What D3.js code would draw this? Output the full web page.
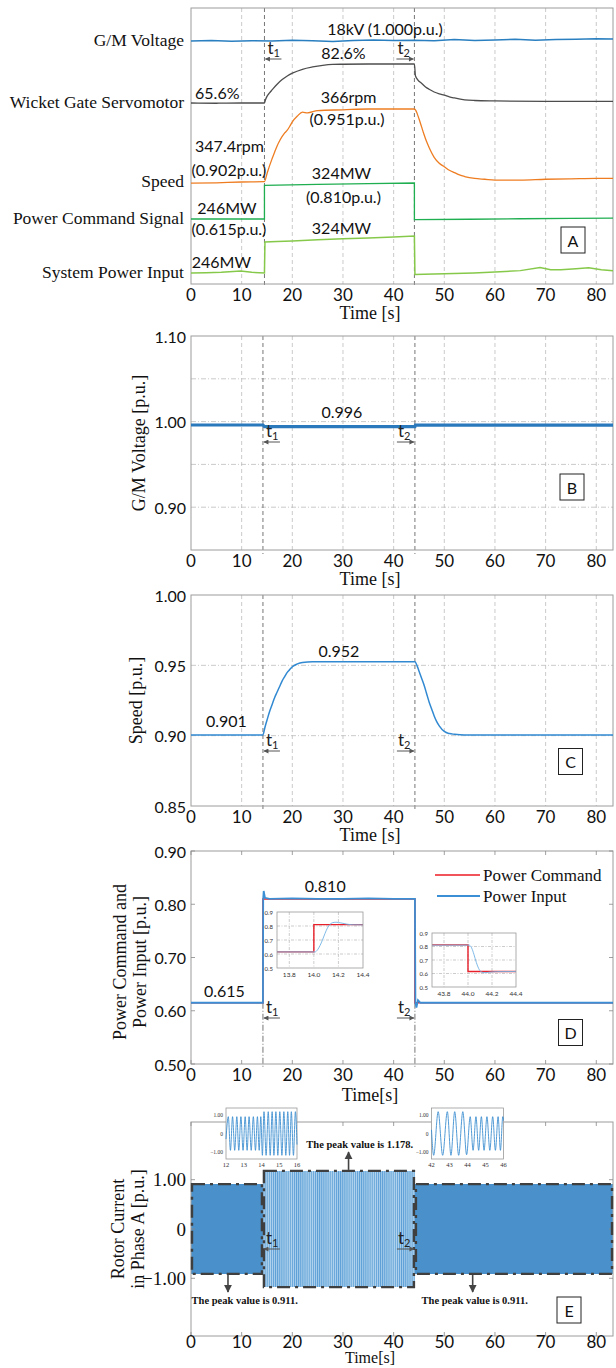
<!DOCTYPE html>
<html>
<head>
<meta charset="utf-8">
<script src="https://cdn.jsdelivr.net/npm/d3@7"></script>
<style>
  body { margin: 0; background: #fff; }
  svg { display: block; }
</style>
</head>
<body>
<svg id="chart" width="616" height="1368"></svg>
<script>
// ---- data ----
const xTicks = [0, 10, 20, 30, 40, 50, 60, 70, 80];
const tEventsA = [14.5, 44.1];
const tEvents = [14.2, 44.2];

// panel A (measured)
const gmTime = [0, 4, 8, 12, 16, 20, 24, 28, 32, 36, 40, 44, 48, 52, 56, 60, 64, 68, 72, 76, 80, 83.3];
const gmVolt = [1.0000, 1.0002, 0.9999, 1.0001, 1.0000, 1.0003, 1.0001, 0.9998, 1.0002, 1.0004, 1.0002, 1.0003, 1.0001, 1.0005, 1.0002, 1.0004, 1.0006, 1.0003, 1.0005, 1.0006, 1.0008, 1.0007];
const gateTime = [0, 5, 10, 14.5, 14.7, 15, 15.5, 16, 17, 18, 19, 20, 22, 24, 26, 28, 30, 35, 40, 44.1, 44.3, 44.8, 45.5, 46.3, 47, 48, 49, 50, 51, 52, 54, 56, 60, 70, 83.3];
const gateOpen = [65.6, 65.5, 65.6, 65.6, 67.0, 68.5, 70.0, 71.3, 73.8, 75.8, 77.4, 78.6, 80.3, 81.3, 82.0, 82.4, 82.5, 82.6, 82.6, 82.6, 77.5, 75.6, 74.2, 72.6, 71.6, 70.4, 69.6, 69.0, 68.3, 67.8, 67.0, 66.7, 66.5, 66.3, 66.3];
const speedTime = [0, 5, 10, 14.5, 15, 15.5, 16, 16.5, 17, 17.5, 18, 18.5, 19, 19.5, 20, 21, 22, 23, 25, 30, 35, 44.1, 44.6, 45, 45.5, 46, 46.5, 47, 48, 49, 50, 51, 52, 53, 54, 56, 58, 60, 65, 70, 75, 80, 83.3];
const speedRpm = [347.1, 347.2, 347.4, 347.5, 349.5, 351.5, 353.3, 355.0, 356.6, 357.9, 359.0, 359.9, 360.6, 361.6, 362.7, 364.2, 365.2, 365.0, 365.6, 365.8, 366.0, 366.0, 365.0, 363.5, 361.5, 359.5, 357.7, 356.2, 353.7, 352.2, 351.3, 350.4, 349.8, 349.2, 348.8, 348.3, 348.1, 347.9, 347.9, 348.1, 348.2, 348.3, 348.3];
const cmdTime = [0, 14.5, 14.5, 25, 35, 44.1, 44.1, 55, 65, 75, 83.3];
const cmdMW = [246, 246, 319, 321, 322.5, 324, 244.5, 245.5, 246.5, 247.5, 248];
const inTime = [0, 3, 6, 9.8, 12, 14.5, 14.6, 17, 20, 25, 30, 35, 40, 44.1, 44.2, 46, 50, 55.8, 60, 65, 68.9, 71, 73, 76, 78.5, 81, 83.3];
const inMW = [246, 246.5, 247.5, 250, 247.5, 246, 311.5, 312.5, 313.5, 316, 318, 320, 322, 324, 243, 243.5, 244.5, 246, 248, 251, 257.8, 253, 253, 255, 257, 253, 251];

// panel B
const bTime = [0, 14.2, 14.5, 30, 44.2, 44.3, 83.3];
const bVolt = [0.996, 0.996, 0.9942, 0.9942, 0.9942, 0.9958, 0.9958];

// panel C
const cTime = [0, 10, 14.2, 14.6, 15, 15.5, 16, 16.5, 17, 17.5, 18, 18.5, 19, 19.5, 20, 21, 22, 24, 30, 44.2, 44.6, 45, 45.5, 46, 46.5, 47, 47.5, 48, 48.5, 49, 50, 51, 52, 54, 60, 83.3];
const cSpeed = [0.9005, 0.9005, 0.9005, 0.906, 0.911, 0.917, 0.922, 0.927, 0.931, 0.935, 0.939, 0.942, 0.945, 0.947, 0.949, 0.951, 0.952, 0.9525, 0.9525, 0.9525, 0.950, 0.946, 0.941, 0.936, 0.930, 0.924, 0.919, 0.914, 0.910, 0.907, 0.903, 0.9015, 0.901, 0.9005, 0.9005, 0.9005];

// panel D
const dCmdTime = [0, 14.2, 14.2, 44.2, 44.2, 83.3];
const dCmdVal = [0.615, 0.615, 0.81, 0.81, 0.615, 0.615];
const dInTime = [0, 14.2, 14.25, 14.35, 14.6, 15.5, 20, 25, 30, 35, 40, 44.2, 44.3, 44.5, 44.8, 45.3, 50, 83.3];
const dInVal = [0.615, 0.615, 0.81, 0.825, 0.812, 0.81, 0.811, 0.81, 0.81, 0.811, 0.81, 0.81, 0.615, 0.606, 0.62, 0.615, 0.615, 0.615];
const dZoom1Cmd = [[13.7, 0.615], [14.0, 0.615], [14.0, 0.81], [14.4, 0.81]];
const dZoom1In = [[13.7, 0.615], [14.01, 0.615], [14.03, 0.63], [14.05, 0.66], [14.07, 0.70], [14.09, 0.745], [14.11, 0.785], [14.13, 0.81], [14.15, 0.823], [14.18, 0.827], [14.22, 0.822], [14.27, 0.813], [14.32, 0.809], [14.4, 0.808]];
const dZoom2Cmd = [[43.7, 0.812], [44.0, 0.812], [44.0, 0.615], [44.4, 0.615]];
const dZoom2In = [[43.7, 0.81], [44.01, 0.81], [44.03, 0.79], [44.05, 0.74], [44.07, 0.68], [44.09, 0.635], [44.11, 0.612], [44.14, 0.606], [44.18, 0.61], [44.24, 0.614], [44.4, 0.615]];

// panel E
const eSegStart = [0, 14.2, 44.2];
const eSegEnd = [14.2, 44.2, 83.3];
const ePeak = [0.911, 1.178, 0.911];
const eZoom1 = [[12.00, -0.30], [12.13, 0.91], [12.25, -0.91], [12.37, 0.91], [12.49, -0.91], [12.61, 0.91], [12.72, -0.91], [12.84, 0.91], [12.96, -0.91], [13.08, 0.91], [13.19, -0.91], [13.30, 0.91], [13.42, -0.91], [13.54, 0.91], [13.66, -0.91], [13.77, 0.91], [13.87, -0.91], [13.96, 0.91], [14.05, -1.18], [14.14, 1.18], [14.26, -1.18], [14.38, 1.18], [14.49, -1.18], [14.60, 1.18], [14.70, -1.18], [14.81, 1.18], [14.92, -1.18], [15.03, 1.18], [15.15, -1.18], [15.26, 1.18], [15.37, -1.18], [15.48, 1.18], [15.58, -1.18], [15.68, 1.18], [15.80, -1.18], [15.91, 1.18], [16.00, -0.60]];
const eZoom2 = [[42.00, 0.20], [42.12, -1.18], [42.37, 1.18], [42.62, -1.18], [42.88, 1.18], [43.08, -1.18], [43.29, 1.18], [43.51, -1.18], [43.74, 1.18], [43.95, -1.15], [44.15, 0.91], [44.31, -0.91], [44.47, 0.91], [44.62, -0.91], [44.77, 0.91], [44.92, -0.91], [45.08, 0.91], [45.24, -0.91], [45.40, 0.91], [45.55, -0.91], [45.70, 0.91], [45.83, -0.91], [45.96, 0.91], [46.00, 0.70]];

// ---- layout ----
const serif = '"Liberation Serif", "Times New Roman", serif';
const sans = 'Lato, "Open Sans", sans-serif';
const svg = d3.select('#chart');
const x = d3.scaleLinear().domain([0, 83.3]).range([191, 613]);
const P = {
  A: { top: 8, bottom: 284 },
  B: { top: 336, bottom: 550 },
  C: { top: 595, bottom: 806 },
  D: { top: 851, bottom: 1064 },
  E: { top: 1122, bottom: 1336 }
};
const zip = (ts, vs) => ts.map((t, i) => [t, vs[i]]);

const defs = svg.append('defs');
defs.append('marker')
  .attr('id', 'arrowHead').attr('viewBox', '0 0 10 10')
  .attr('refX', 9).attr('refY', 5).attr('markerWidth', 6).attr('markerHeight', 5)
  .attr('orient', 'auto')
  .append('path').attr('d', 'M0,0L10,5L0,10Z').attr('fill', '#555');
defs.append('marker')
  .attr('id', 'bigHead').attr('viewBox', '0 0 10 10')
  .attr('refX', 9).attr('refY', 5).attr('markerWidth', 5).attr('markerHeight', 6)
  .attr('orient', 'auto')
  .append('path').attr('d', 'M0,0L10,5L0,10Z').attr('fill', '#444');
const pat = defs.append('pattern').attr('id', 'eStripes')
  .attr('patternUnits', 'userSpaceOnUse').attr('width', 2.1).attr('height', 4);
pat.append('rect').attr('width', 2.1).attr('height', 4).attr('fill', '#b3d4ee');
pat.append('rect').attr('width', 1).attr('height', 4).attr('fill', '#5b9fd6');

function frame(p) {
  svg.append('rect')
    .attr('x', x.range()[0]).attr('y', p.top)
    .attr('width', x.range()[1] - x.range()[0]).attr('height', p.bottom - p.top)
    .attr('fill', 'none').attr('stroke', '#9c9c9c').attr('stroke-width', 1);
}

function vGrid(p) {
  svg.append('g').selectAll('line').data(xTicks.slice(1)).join('line')
    .attr('x1', d => x(d)).attr('x2', d => x(d))
    .attr('y1', p.top).attr('y2', p.bottom)
    .attr('stroke', '#bdbdbd').attr('stroke-width', 0.8).attr('stroke-dasharray', '4,3');
}

function hGrid(y, vals) {
  svg.append('g').selectAll('line').data(vals).join('line')
    .attr('x1', x.range()[0]).attr('x2', x.range()[1])
    .attr('y1', d => y(d)).attr('y2', d => y(d))
    .attr('stroke', '#bdbdbd').attr('stroke-width', 0.8).attr('stroke-dasharray', '5,2,1,2');
}

function tLines(p, times, y0, dash) {
  svg.append('g').selectAll('line').data(times).join('line')
    .attr('x1', d => x(d)).attr('x2', d => x(d))
    .attr('y1', y0).attr('y2', p.bottom + 4)
    .attr('stroke', '#666').attr('stroke-width', 0.9).attr('stroke-dasharray', dash);
}

function xLabels(p, title, off1 = 17, off2 = 35, titleSize = 18) {
  const g = svg.append('g');
  g.selectAll('text').data(xTicks).join('text')
    .attr('x', d => x(d)).attr('y', p.bottom + off1)
    .attr('text-anchor', 'middle').style('font', `17px ${sans}`).attr('fill', '#111')
    .text(d => d);
  g.append('text').attr('x', 370).attr('y', p.bottom + off2)
    .attr('text-anchor', 'middle').style('font', `${titleSize}px ${serif}`).attr('fill', '#111')
    .text(title);
}

function yLabels(y, vals, fmt, font) {
  svg.append('g').selectAll('text').data(vals).join('text')
    .attr('x', 186).attr('y', d => y(d))
    .attr('text-anchor', 'end').attr('dominant-baseline', 'central')
    .style('font', font || `16px ${sans}`).attr('fill', '#111')
    .text(fmt);
}

function yTitle(lines, xs, yc) {
  lines.forEach((s, i) => {
    svg.append('text')
      .attr('transform', `translate(${xs[i]},${yc}) rotate(-90)`)
      .attr('text-anchor', 'middle').attr('dominant-baseline', 'central')
      .style('font', `18px ${serif}`).attr('fill', '#111')
      .text(s);
  });
}

function tMarks(times, arrowY) {
  times.forEach((t, i) => {
    const xt = x(t);
    const g = svg.append('g');
    const txt = g.append('text')
      .attr('x', i === 0 ? xt + 3 : xt - 17).attr('y', arrowY - 5)
      .style('font', `17px ${sans}`).attr('fill', '#222');
    txt.append('tspan').text('t');
    txt.append('tspan').attr('dy', 3).style('font-size', '11px').text(i + 1);
    g.append('line')
      .attr('x1', i === 0 ? xt + 17 : xt - 18).attr('x2', i === 0 ? xt + 1 : xt - 1)
      .attr('y1', arrowY).attr('y2', arrowY)
      .attr('stroke', '#555').attr('stroke-width', 1).attr('marker-end', 'url(#arrowHead)');
  });
}

function note(text, xc, yb, anchor = 'middle', font) {
  svg.append('text').attr('x', xc).attr('y', yb).attr('text-anchor', anchor)
    .style('font', font || `16px ${sans}`).attr('fill', '#111').text(text);
}

function tagBox(letter, xc, yc) {
  svg.append('rect').attr('x', xc - 12).attr('y', yc - 13).attr('width', 24).attr('height', 26)
    .attr('fill', '#fff').attr('stroke', '#222').attr('stroke-width', 1);
  svg.append('text').attr('x', xc).attr('y', yc).attr('text-anchor', 'middle')
    .attr('dominant-baseline', 'central').style('font', `16px ${sans}`).attr('fill', '#111').text(letter);
}

function inTicks(p, y, yVals) {
  const g = svg.append('g').attr('stroke', '#888').attr('stroke-width', 0.8);
  xTicks.forEach(d => {
    g.append('line').attr('x1', x(d)).attr('x2', x(d)).attr('y1', p.bottom).attr('y2', p.bottom - 4);
    g.append('line').attr('x1', x(d)).attr('x2', x(d)).attr('y1', p.top).attr('y2', p.top + 4);
  });
  yVals.forEach(v => {
    g.append('line').attr('x1', x.range()[0]).attr('x2', x.range()[0] + 4).attr('y1', y(v)).attr('y2', y(v));
    g.append('line').attr('x1', x.range()[1]).attr('x2', x.range()[1] - 4).attr('y1', y(v)).attr('y2', y(v));
  });
}

// ================= Panel A =================
(() => {
  const p = P.A;
  vGrid(p);
  tLines(p, tEventsA, p.top, '4,3');
  frame(p);
  const traces = [
    { label: 'G/M Voltage', color: '#2a7fc0', data: zip(gmTime, gmVolt), lo: 1.0, hi: 1.005, yLo: 33, yHi: 19, curve: d3.curveLinear, w: 1.5 },
    { label: 'Wicket Gate Servomotor', color: '#4d4d4d', data: zip(gateTime, gateOpen), lo: 65.6, hi: 82.6, yLo: 95, yHi: 56, curve: d3.curveMonotoneX, w: 1.3 },
    { label: 'Speed', color: '#ee7d22', data: zip(speedTime, speedRpm), lo: 347.4, hi: 366, yLo: 174, yHi: 101, curve: d3.curveMonotoneX, w: 1.3 },
    { label: 'Power Command Signal', color: '#1fae50', data: zip(cmdTime, cmdMW), lo: 246, hi: 324, yLo: 211, yHi: 175, curve: d3.curveLinear, w: 1.3 },
    { label: 'System Power Input', color: '#86c94a', data: zip(inTime, inMW), lo: 246, hi: 324, yLo: 265, yHi: 228, curve: d3.curveLinear, w: 1.5 }
  ];
  traces.forEach(tr => {
    tr.y = d3.scaleLinear().domain([tr.lo, tr.hi]).range([p.top + tr.yLo, p.top + tr.yHi]);
    svg.append('path').datum(tr.data)
      .attr('d', d3.line().x(d => x(d[0])).y(d => tr.y(d[1])).curve(tr.curve))
      .attr('fill', 'none').attr('stroke', tr.color).attr('stroke-width', tr.w);
    svg.append('text').attr('x', 184).attr('y', tr.y(tr.lo) - 1)
      .attr('text-anchor', 'end').attr('dominant-baseline', 'central')
      .style('font', `17.5px ${serif}`).attr('fill', '#111').text(tr.label);
  });
  const [gm, gate, spd, cmd, pin] = traces;
  note('18kV (1.000p.u.)', x(38.3), gm.y(1.0) - 6);
  note('82.6%', x(30.1), gate.y(82.6) - 5);
  note('65.6%', x(0.8), gate.y(65.6) - 4, 'start');
  note('366rpm', x(31.1), spd.y(366) - 6);
  note('(0.951p.u.)', x(30.8), spd.y(366) + 16);
  note('347.4rpm', x(0.8), spd.y(347.4) - 30, 'start');
  note('(0.902p.u.)', x(0.1), spd.y(347.4) - 6, 'start');
  note('324MW', x(29.7), cmd.y(324) - 4);
  note('(0.810p.u.)', x(30.1), cmd.y(324) + 20);
  note('246MW', x(7.1), cmd.y(246) - 5);
  note('(0.615p.u.)', x(0.1), cmd.y(246) + 16, 'start');
  note('324MW', x(29.7), pin.y(324) - 2);
  note('246MW', x(6.0), pin.y(246) - 5);
  tMarks(tEventsA, p.top + 51);
  xLabels(p, 'Time [s]');
  tagBox('A', 573, 240);
})();

// ================= Panel B =================
(() => {
  const p = P.B;
  const y = d3.scaleLinear().domain([0.85, 1.10]).range([p.bottom, p.top]);
  vGrid(p);
  hGrid(y, [0.90, 0.95, 1.00, 1.05]);
  tLines(p, tEvents, p.top, '4,3');
  frame(p);
  svg.append('path').datum(zip(bTime, bVolt))
    .attr('d', d3.line().x(d => x(d[0])).y(d => y(d[1])))
    .attr('fill', 'none').attr('stroke', '#2b79bd').attr('stroke-width', 3.2);
  yLabels(y, [0.90, 1.00, 1.10], d3.format('.2f'));
  yTitle(['G/M Voltage [p.u.]'], [139], (p.top + p.bottom) / 2);
  note('0.996', x(29.8), y(0.996) - 7);
  tMarks(tEvents, p.top + 106);
  xLabels(p, 'Time [s]');
  tagBox('B', 572, 487);
})();

// ================= Panel C =================
(() => {
  const p = P.C;
  const y = d3.scaleLinear().domain([0.85, 1.00]).range([p.bottom, p.top]);
  vGrid(p);
  hGrid(y, [0.90, 0.95]);
  tLines(p, tEvents, p.top, '4,3');
  frame(p);
  svg.append('path').datum(zip(cTime, cSpeed))
    .attr('d', d3.line().x(d => x(d[0])).y(d => y(d[1])).curve(d3.curveMonotoneX))
    .attr('fill', 'none').attr('stroke', '#3189d2').attr('stroke-width', 1.5);
  yLabels(y, [0.85, 0.90, 0.95, 1.00], d3.format('.2f'));
  yTitle(['Speed [p.u.]'], [136], (p.top + p.bottom) / 2);
  note('0.952', x(29.2), y(0.952) - 6);
  note('0.901', x(7.0), y(0.901) - 7);
  tMarks(tEvents, p.top + 156);
  xLabels(p, 'Time [s]');
  tagBox('C', 570.5, 761.5);
})();

// ================= Panel D =================
(() => {
  const p = P.D;
  const y = d3.scaleLinear().domain([0.5, 0.9]).range([p.bottom, p.top]);
  tLines(p, tEvents, y(0.615), '6,2,1,2');
  frame(p);
  inTicks(p, y, [0.5, 0.6, 0.7, 0.8, 0.9]);
  const line = d3.line().x(d => x(d[0])).y(d => y(d[1]));
  svg.append('path').datum(zip(dCmdTime, dCmdVal)).attr('d', line)
    .attr('fill', 'none').attr('stroke', '#ec1c24').attr('stroke-width', 1.5);
  svg.append('path').datum(zip(dInTime, dInVal)).attr('d', line)
    .attr('fill', 'none').attr('stroke', '#3b8fd4').attr('stroke-width', 1.8);
  yLabels(y, [0.5, 0.6, 0.7, 0.8, 0.9], d3.format('.2f'));
  yTitle(['Power Command and', 'Power Input [p.u.]'], [120, 139.5], 962);
  note('0.810', x(26.5), y(0.81) - 7);
  note('0.615', x(6.6), y(0.615) - 6);
  tMarks(tEvents, p.top + 167);
  xLabels(p, 'Time[s]', 17, 37);
  tagBox('D', 570.5, 1032.5);

  // legend
  const lg = svg.append('g');
  [['Power Command', '#ec1c24', 875], ['Power Input', '#3b8fd4', 896]].forEach(([name, col, ly], i) => {
    lg.append('line').attr('x1', i ? 437 : 435).attr('x2', 480).attr('y1', ly).attr('y2', ly)
      .attr('stroke', col).attr('stroke-width', i ? 2 : 1.5);
    lg.append('text').attr('x', 483).attr('y', ly + 6).style('font', `17px ${serif}`)
      .attr('fill', '#111').text(name);
  });

  // insets
  const insets = [
    { x0: 277, x1: 363, y0: 912, y1: 968, dom: [13.7, 14.4], ticks: [13.8, 14.0, 14.2, 14.4], cmd: dZoom1Cmd, pin: dZoom1In },
    { x0: 432, x1: 516, y0: 933, y1: 987, dom: [43.7, 44.4], ticks: [43.8, 44.0, 44.2, 44.4], cmd: dZoom2Cmd, pin: dZoom2In }
  ];
  insets.forEach(ins => {
    const xi = d3.scaleLinear().domain(ins.dom).range([ins.x0, ins.x1]);
    const yi = d3.scaleLinear().domain([0.5, 0.9]).range([ins.y1, ins.y0]);
    const g = svg.append('g');
    g.append('rect').attr('x', ins.x0).attr('y', ins.y0).attr('width', ins.x1 - ins.x0)
      .attr('height', ins.y1 - ins.y0).attr('fill', '#fff');
    g.selectAll('.gx').data(ins.ticks.slice(0, 3)).join('line')
      .attr('x1', d => xi(d)).attr('x2', d => xi(d)).attr('y1', ins.y0).attr('y2', ins.y1)
      .attr('stroke', '#aaa').attr('stroke-width', 0.6).attr('stroke-dasharray', '3,1.5,1,1.5');
    g.selectAll('.gy').data([0.6, 0.7, 0.8]).join('line')
      .attr('x1', ins.x0).attr('x2', ins.x1).attr('y1', d => yi(d)).attr('y2', d => yi(d))
      .attr('stroke', '#aaa').attr('stroke-width', 0.6).attr('stroke-dasharray', '3,1.5,1,1.5');
    const l = d3.line().x(d => xi(d[0])).y(d => yi(d[1]));
    g.append('path').datum(ins.cmd).attr('d', l).attr('fill', 'none').attr('stroke', '#e8202a').attr('stroke-width', 1.4);
    g.append('path').datum(ins.pin).attr('d', l.curve(d3.curveMonotoneX)).attr('fill', 'none')
      .attr('stroke', '#72b2e4').attr('stroke-width', 0.9);
    g.append('rect').attr('x', ins.x0).attr('y', ins.y0).attr('width', ins.x1 - ins.x0)
      .attr('height', ins.y1 - ins.y0).attr('fill', 'none').attr('stroke', '#999').attr('stroke-width', 0.8);
    g.selectAll('.lx').data(ins.ticks).join('text')
      .attr('x', d => xi(d)).attr('y', ins.y1 + 9).attr('text-anchor', 'middle')
      .style('font', `6.5px ${sans}`).attr('fill', '#333').text(d3.format('.1f'));
    g.selectAll('.ly').data([0.5, 0.6, 0.7, 0.8, 0.9]).join('text')
      .attr('x', ins.x0 - 4).attr('y', d => yi(d)).attr('text-anchor', 'end')
      .attr('dominant-baseline', 'central').style('font', `6px ${sans}`).attr('fill', '#333')
      .text(d3.format('.1f'));
  });
})();

// ================= Panel E =================
(() => {
  const p = P.E;
  const y = d3.scaleLinear().domain([-2.17, 2.17]).range([p.bottom, p.top]);
  eSegStart.forEach((s, i) => {
    const area = d3.area().x(d => x(d)).y0(y(-ePeak[i])).y1(y(ePeak[i]));
    svg.append('path').datum([s, eSegEnd[i]]).attr('d', area)
      .attr('fill', i === 1 ? 'url(#eStripes)' : '#4a90ca');
  });
  frame(p);
  inTicks(p, y, [-1, 0, 1]);
  eSegStart.forEach((s, i) => {
    svg.append('rect')
      .attr('x', x(s) + 1).attr('y', y(ePeak[i]))
      .attr('width', x(eSegEnd[i]) - x(s) - 2).attr('height', y(-ePeak[i]) - y(ePeak[i]))
      .attr('fill', 'none').attr('stroke', '#3f3f3f').attr('stroke-width', 2.4)
      .attr('stroke-dasharray', '13,5,3,5');
  });
  yLabels(y, [1, 0, -1], d => (d === 0 ? '0' : d3.format('.2f')(d)), `19px ${serif}`);
  yTitle(['Rotor Current', 'in Phase A [p.u.]'], [118, 137.5], 1229);
  tMarks(tEvents, p.top + 127);
  xLabels(p, 'Time[s]', 12, 27, 16);
  tagBox('E', 569, 1310);

  // peak annotations
  const bold = `bold 10.5px ${serif}`;
  note('The peak value is 1.178.', x(33.3), 1148, 'middle', bold);
  svg.append('line').attr('x1', x(31.1)).attr('x2', x(31.1))
    .attr('y1', y(1.178) - 1).attr('y2', 1152)
    .attr('stroke', '#444').attr('stroke-width', 1.6).attr('marker-end', 'url(#bigHead)');
  [[7.3, 10.6], [55.6, 56.0]].forEach(([ta, tt]) => {
    svg.append('line').attr('x1', x(ta)).attr('x2', x(ta))
      .attr('y1', y(-0.911) + 1).attr('y2', 1292)
      .attr('stroke', '#444').attr('stroke-width', 1.6).attr('marker-end', 'url(#bigHead)');
    note('The peak value is 0.911.', x(tt), 1304, 'middle', bold);
  });

  // zoom insets
  const insets = [
    { x0: 226, x1: 297, dom: [12, 16], ticks: [12, 13, 14, 15, 16], data: eZoom1 },
    { x0: 431.5, x1: 503.5, dom: [42, 46], ticks: [42, 43, 44, 45, 46], data: eZoom2 }
  ];
  insets.forEach(ins => {
    const y0 = 1108, y1 = 1159;
    const xi = d3.scaleLinear().domain(ins.dom).range([ins.x0, ins.x1]);
    const yi = d3.scaleLinear().domain([-1.38, 1.38]).range([y1, y0]);
    const g = svg.append('g');
    g.append('rect').attr('x', ins.x0).attr('y', y0).attr('width', ins.x1 - ins.x0)
      .attr('height', y1 - y0).attr('fill', '#fff').attr('stroke', '#999').attr('stroke-width', 0.8);
    g.append('path').datum(ins.data)
      .attr('d', d3.line().x(d => xi(d[0])).y(d => yi(d[1])).curve(d3.curveMonotoneX))
      .attr('fill', 'none').attr('stroke', '#3d8fd0').attr('stroke-width', 0.9);
    g.selectAll('.lx').data(ins.ticks).join('text')
      .attr('x', d => xi(d)).attr('y', y1 + 8).attr('text-anchor', 'middle')
      .style('font', `6.5px ${serif}`).attr('fill', '#333').text(d => d);
    g.selectAll('.ly').data([1, 0, -1]).join('text')
      .attr('x', ins.x0 - 3).attr('y', d => yi(d)).attr('text-anchor', 'end')
      .attr('dominant-baseline', 'central').style('font', `5.5px ${serif}`).attr('fill', '#333')
      .text(d => (d === 0 ? '0' : d3.format('.2f')(d)));
  });
})();
</script>
</body>
</html>
